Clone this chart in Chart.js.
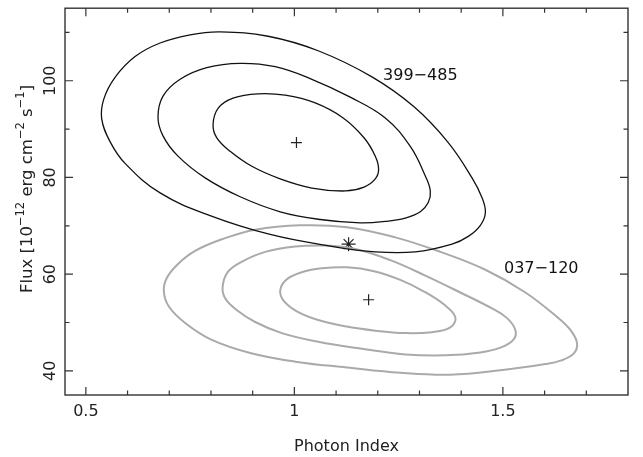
<!DOCTYPE html>
<html>
<head>
<meta charset="utf-8">
<script src="https://cdn.jsdelivr.net/npm/chart.js@4.4.0/dist/chart.umd.min.js"></script>
<style>
  html, body { margin: 0; padding: 0; background: #fff; }
</style>
</head>
<body>
<canvas id="grafico-contornos" width="643" height="457"></canvas>
<script>
// --- DATOS (Photon Index, Flux) ---
const negroExterior = [
  [0.538, 92.1], [0.543, 96.2], [0.570, 100.7], [0.618, 105.0], [0.678, 107.8],
  [0.750, 109.5], [0.822, 110.1], [0.937, 109.2], [1.057, 106.2], [1.186, 100.8],
  [1.287, 94.6], [1.369, 87.2], [1.426, 79.9], [1.450, 75.8], [1.458, 72.7],
  [1.446, 70.1], [1.417, 67.8], [1.378, 66.2], [1.290, 64.6], [1.194, 64.6],
  [1.086, 65.8], [0.942, 68.2], [0.798, 72.1], [0.678, 76.8], [0.594, 82.9],
  [0.558, 87.4]
];
const negroMedio = [
  [0.673, 92.5], [0.685, 96.8], [0.726, 100.3], [0.790, 102.7], [0.870, 103.6],
  [0.954, 102.9], [1.042, 100.3], [1.134, 96.6], [1.218, 92.3], [1.278, 86.4],
  [1.314, 80.3], [1.326, 77.2], [1.321, 74.8], [1.302, 72.9], [1.266, 71.6],
  [1.218, 70.9], [1.158, 70.6], [1.062, 71.3], [0.966, 72.9], [0.870, 76.0],
  [0.786, 79.9], [0.721, 84.4], [0.685, 88.6]
];
const negroInterior = [
  [0.805, 90.9], [0.817, 94.3], [0.853, 96.4], [0.913, 97.3], [0.978, 97.0],
  [1.050, 95.4], [1.117, 92.3], [1.167, 88.2], [1.194, 84.4], [1.202, 81.7],
  [1.194, 79.7], [1.167, 78.0], [1.122, 77.2], [1.042, 77.8], [0.966, 79.7],
  [0.898, 82.3], [0.846, 85.4], [0.814, 88.2]
];
const grisExterior = [
  [0.687, 56.4], [0.694, 59.2], [0.721, 62.1], [0.762, 64.8], [0.826, 67.2],
  [0.906, 69.2], [1.014, 70.1], [1.126, 69.7], [1.242, 67.6], [1.350, 64.6],
  [1.458, 60.9], [1.554, 56.2], [1.633, 50.9], [1.664, 48.2], [1.678, 45.6],
  [1.669, 43.5], [1.638, 42.1], [1.602, 41.4], [1.494, 40.1], [1.374, 39.2],
  [1.254, 39.6], [1.126, 40.7], [1.002, 41.9], [0.894, 43.7], [0.802, 46.4],
  [0.738, 49.9], [0.699, 53.3]
];
const grisMedio = [
  [0.828, 57.4], [0.841, 60.5], [0.877, 62.7], [0.930, 64.6], [1.002, 65.7],
  [1.074, 65.9], [1.146, 65.2], [1.230, 62.9], [1.314, 59.7], [1.398, 56.2],
  [1.474, 52.9], [1.510, 50.9], [1.530, 48.4], [1.525, 46.4], [1.494, 44.8],
  [1.446, 43.8], [1.362, 43.2], [1.266, 43.4], [1.158, 44.6], [1.057, 46.0],
  [0.970, 47.8], [0.906, 50.1], [0.860, 52.7], [0.834, 55.0]
];
const grisInterior = [
  [0.966, 56.6], [0.980, 58.8], [1.014, 60.3], [1.066, 61.2], [1.126, 61.4],
  [1.191, 60.6], [1.254, 58.8], [1.311, 56.4], [1.359, 53.7], [1.386, 51.1],
  [1.374, 49.0], [1.330, 48.0], [1.266, 47.8], [1.194, 48.3], [1.122, 49.2],
  [1.057, 50.5], [1.006, 52.3], [0.975, 54.4]
];
const mejoresAjustes = [[1.005, 87.2], [1.178, 54.7]];
const estrella = [[1.130, 66.2]];

// Etiquetas de las fuentes (posición en unidades de los datos)
const etiquetas = [
  { texto: '399\u2212485', x: 1.302, y: 101.0 },
  { texto: '037\u2212120', x: 1.592, y: 61.0 }
];

// Ejes
const xMayores = [0.5, 1, 1.5];
const xEtiquetas = ['0.5', '1', '1.5'];
const xMenores = [0.6, 0.7, 0.8, 0.9, 1.1, 1.2, 1.3, 1.4, 1.6, 1.7];
const yMayores = [40, 60, 80, 100];
const yEtiquetas = ['40', '60', '80', '100'];
const yMenores = [50, 70, 90, 110];

const FUENTE = '"DejaVu Sans", sans-serif';

const aPuntos = arr => arr.map(p => ({ x: p[0], y: p[1] }));

function contorno(arr, color, ancho) {
  return {
    data: aPuntos(arr),
    borderColor: color,
    borderWidth: ancho,
    pointRadius: 0,
    tension: 0.4,
    fill: false,
    cerrado: true
  };
}

// --- PLUGIN: cierra los contornos como un lazo ---
const cerrarLazos = {
  id: 'cerrarLazos',
  afterDatasetsUpdate(chart) {
    chart.data.datasets.forEach((ds, i) => {
      if (!ds.cerrado) return;
      const linea = chart.getDatasetMeta(i).dataset;
      if (linea) {
        linea._loop = true;
        linea._fullLoop = true;
        linea._pointsUpdated = false;
      }
    });
  }
};

// --- PLUGIN: marco estilo PGPLOT con marcas hacia dentro ---
const marco = {
  id: 'marco',
  afterDraw(chart) {
    const ctx = chart.ctx;
    const a = chart.chartArea;
    const sx = chart.scales.x;
    const sy = chart.scales.y;

    ctx.save();
    ctx.strokeStyle = '#333';
    ctx.lineWidth = 1.4;
    ctx.strokeRect(a.left, a.top, a.right - a.left, a.bottom - a.top);

    ctx.lineWidth = 1.2;
    ctx.beginPath();
    const marcaX = (v, largo) => {
      const px = sx.getPixelForValue(v);
      ctx.moveTo(px, a.bottom); ctx.lineTo(px, a.bottom - largo);
      ctx.moveTo(px, a.top); ctx.lineTo(px, a.top + largo);
    };
    const marcaY = (v, largo) => {
      const py = sy.getPixelForValue(v);
      ctx.moveTo(a.left, py); ctx.lineTo(a.left + largo, py);
      ctx.moveTo(a.right, py); ctx.lineTo(a.right - largo, py);
    };
    xMayores.forEach(v => marcaX(v, 8));
    xMenores.forEach(v => marcaX(v, 4.5));
    yMayores.forEach(v => marcaY(v, 8));
    yMenores.forEach(v => marcaY(v, 4.5));
    ctx.stroke();

    // Números de los ejes
    ctx.fillStyle = '#222';
    ctx.font = '16px ' + FUENTE;
    ctx.textAlign = 'center';
    ctx.textBaseline = 'alphabetic';
    xMayores.forEach((v, i) => {
      ctx.fillText(xEtiquetas[i], sx.getPixelForValue(v), a.bottom + 21);
    });
    yMayores.forEach((v, i) => {
      ctx.save();
      ctx.translate(a.left - 10, sy.getPixelForValue(v));
      ctx.rotate(-Math.PI / 2);
      ctx.fillText(yEtiquetas[i], 0, 0);
      ctx.restore();
    });

    // Título del eje X
    ctx.fillText('Photon Index', (a.left + a.right) / 2, 451);

    // Título del eje Y con superíndices
    const trozos = [
      { t: 'Flux [10', sup: false },
      { t: '\u221212', sup: true },
      { t: ' erg cm', sup: false },
      { t: '\u22122', sup: true },
      { t: ' s', sup: false },
      { t: '\u22121', sup: true },
      { t: ']', sup: false }
    ];
    const fNormal = '16.5px ' + FUENTE;
    const fSup = '11.5px ' + FUENTE;
    let total = 0;
    trozos.forEach(tr => {
      ctx.font = tr.sup ? fSup : fNormal;
      tr.w = ctx.measureText(tr.t).width;
      total += tr.w;
    });
    ctx.save();
    ctx.translate(31.5, 189);
    ctx.rotate(-Math.PI / 2);
    ctx.textAlign = 'left';
    let x0 = -total / 2;
    trozos.forEach(tr => {
      ctx.font = tr.sup ? fSup : fNormal;
      ctx.fillText(tr.t, x0, tr.sup ? -8 : 0);
      x0 += tr.w;
    });
    ctx.restore();

    // Nombres de las fuentes
    ctx.font = '16px ' + FUENTE;
    ctx.fillStyle = '#111';
    ctx.textAlign = 'center';
    ctx.textBaseline = 'middle';
    etiquetas.forEach(e => {
      ctx.fillText(e.texto, sx.getPixelForValue(e.x), sy.getPixelForValue(e.y));
    });
    ctx.restore();
  }
};

const ctx = document.getElementById('grafico-contornos').getContext('2d');

new Chart(ctx, {
  type: 'line',
  data: {
    datasets: [
      contorno(negroExterior, '#111', 1.3),
      contorno(negroMedio, '#111', 1.3),
      contorno(negroInterior, '#111', 1.3),
      contorno(grisExterior, '#aaa', 2),
      contorno(grisMedio, '#aaa', 2),
      contorno(grisInterior, '#aaa', 2),
      {
        data: aPuntos(mejoresAjustes),
        showLine: false,
        pointStyle: 'cross',
        pointRadius: 5.5,
        borderColor: '#222',
        borderWidth: 1.2
      },
      {
        data: aPuntos(estrella),
        showLine: false,
        pointStyle: 'star',
        pointRadius: 7,
        borderColor: '#222',
        borderWidth: 1.2
      }
    ]
  },
  options: {
    responsive: false,
    devicePixelRatio: 1,
    animation: false,
    layout: { padding: { left: 65, top: 3, right: 15, bottom: 62 } },
    plugins: {
      legend: { display: false },
      tooltip: { enabled: false }
    },
    scales: {
      x: { type: 'linear', min: 0.45, max: 1.8, display: false },
      y: { type: 'linear', min: 35, max: 115, display: false }
    }
  },
  plugins: [cerrarLazos, marco]
});
</script>
</body>
</html>
